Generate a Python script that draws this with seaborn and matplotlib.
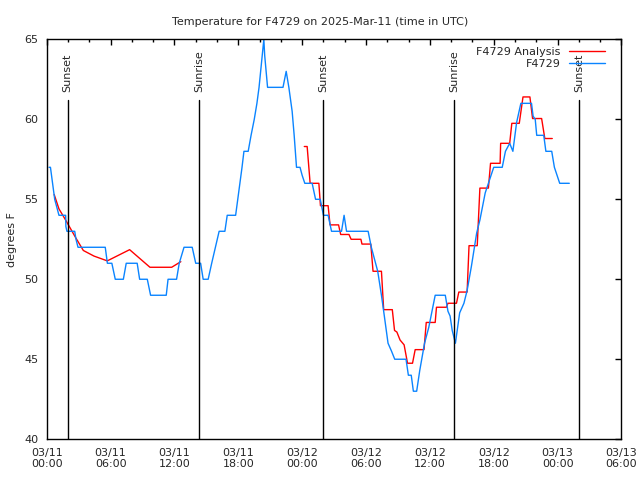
import pandas as pd
import numpy as np
import matplotlib
matplotlib.use("Agg")
import matplotlib.pyplot as plt
import matplotlib.dates as mdates
import seaborn as sns

# --- data (hours after 2025-03-11 00:00 UTC, degrees F) ---
base = pd.Timestamp("2025-03-11 00:00")

obs_hours = [0.22, 0.35, 0.55, 0.75, 0.95, 1.15, 1.78, 1.80, 1.90, 2.63, 2.75, 2.94,
             5.50, 5.70, 6.12, 6.44, 7.20, 7.47, 8.50, 8.73, 9.45, 9.76, 11.23, 11.40,
             12.20, 12.45, 12.90, 13.67, 14.00, 14.46, 14.70, 15.17, 15.50, 15.85, 16.20,
             16.74, 16.96, 17.75, 17.95, 18.15, 18.35, 18.53, 18.93, 19.20, 19.50, 19.75,
             19.95, 20.10, 20.25, 20.40, 20.48, 20.75, 22.20, 22.50, 22.75, 23.06, 23.25,
             23.47, 23.80, 24.00, 24.25, 24.94, 25.26, 25.70, 26.00, 26.44, 26.76, 27.70,
             27.94, 28.17, 30.20, 30.50, 31.10, 31.45, 31.66, 32.07, 32.40, 32.70, 33.76,
             33.98, 34.25, 34.45, 34.76, 35.05, 35.50, 35.90, 36.20, 36.50, 37.45, 37.70,
             37.90, 38.10, 38.40, 38.80, 39.20, 39.50, 39.90, 40.40, 40.70, 41.20, 42.00,
             42.80, 43.10, 43.50, 43.80, 44.15, 44.55, 45.55, 45.70, 45.90, 46.04, 46.70,
             46.90, 47.45, 47.70, 48.20, 49.10]
obs_temp = [57.0, 57.0, 56.0, 55.0, 54.5, 54.0, 54.0, 53.3, 53.0, 53.0, 52.5, 52.0,
            52.0, 51.0, 51.0, 50.0, 50.0, 51.0, 51.0, 50.0, 50.0, 49.0, 49.0, 50.0,
            50.0, 51.0, 52.0, 52.0, 51.0, 51.0, 50.0, 50.0, 51.0, 52.0, 53.0,
            53.0, 54.0, 54.0, 55.0, 56.0, 57.0, 58.0, 58.0, 59.0, 60.0, 61.0,
            62.0, 63.0, 64.0, 65.0, 64.0, 62.0, 62.0, 63.0, 62.0, 60.5, 59.0,
            57.0, 57.0, 56.5, 56.0, 56.0, 55.0, 55.0, 54.0, 54.0, 53.0, 53.0,
            54.0, 53.0, 53.0, 52.0, 50.5, 49.0, 48.0, 46.0, 45.5, 45.0, 45.0,
            44.0, 44.0, 43.0, 43.0, 44.3, 46.0, 47.0, 48.0, 49.0, 49.0, 48.0,
            47.7, 46.8, 46.0, 47.9, 48.5, 49.3, 50.8, 52.9, 53.7, 55.4, 57.0,
            57.0, 58.0, 58.5, 58.0, 59.8, 61.0, 61.0, 60.2, 60.0, 59.0, 59.0,
            58.0, 58.0, 57.0, 56.0, 56.0]

# analysis series comes in two pieces (gap during the day of 03/11)
ana1_hours = [0.70, 1.15, 1.78, 2.72, 3.44, 4.44, 5.69, 7.79, 9.70, 11.74, 12.60]
ana1_temp = [55.3, 54.4, 53.7, 52.6, 51.8, 51.45, 51.15, 51.85, 50.75, 50.75, 51.1]

ana2_hours = [24.20, 24.47, 24.75, 25.57, 25.72, 26.44, 26.62, 27.42, 27.62, 28.40,
              28.60, 29.52, 29.62, 30.45, 30.66, 31.45, 31.66, 32.47, 32.68, 32.90,
              33.20, 33.58, 33.90, 34.37, 34.62, 35.45, 35.66, 36.50, 36.62, 37.55,
              37.70, 38.50, 38.72, 39.50, 39.68, 40.45, 40.70, 41.50, 41.70, 42.60,
              42.65, 43.50, 43.70, 44.40, 44.75, 45.40, 45.65, 46.50, 46.80, 47.50]
ana2_temp = [58.3, 58.3, 56.0, 56.0, 54.6, 54.6, 53.4, 53.4, 52.8, 52.8,
             52.5, 52.5, 52.2, 52.2, 50.5, 50.5, 48.1, 48.1, 46.8, 46.7,
             46.2, 45.9, 44.75, 44.75, 45.6, 45.6, 47.3, 47.3, 48.25, 48.25,
             48.5, 48.5, 49.2, 49.2, 52.1, 52.1, 55.7, 55.7, 57.25, 57.25,
             58.5, 58.5, 59.75, 59.75, 61.4, 61.4, 60.05, 60.05, 58.8, 58.8]

sun_labels = ["Sunset", "Sunrise", "Sunset", "Sunrise", "Sunset"]
sun_hours = [1.97, 14.30, 25.97, 38.27, 50.0]


def to_df(hours, temp):
    return pd.DataFrame({"time": base + pd.to_timedelta(hours, unit="h"), "temp": temp})


obs = to_df(obs_hours, obs_temp)
ana1 = to_df(ana1_hours, ana1_temp)
ana2 = to_df(ana2_hours, ana2_temp)

# --- plot ---
sns.set_style("white")
plt.rcParams["font.family"] = ["DejaVu Sans"]

fig = plt.figure(figsize=(6.4, 4.8), dpi=100)
ax = fig.add_axes([0.073, 0.085, 0.898, 0.833])

red = "#ff0000"
blue = "#0a84ff"
sns.lineplot(data=ana1, x="time", y="temp", color=red, lw=1, sort=False, estimator=None,
             ax=ax, label="F4729 Analysis")
sns.lineplot(data=ana2, x="time", y="temp", color=red, lw=1, sort=False, estimator=None, ax=ax)
sns.lineplot(data=obs, x="time", y="temp", color=blue, lw=1, sort=False, estimator=None,
             ax=ax, label="F4729")

# sunrise / sunset markers
for lab, h in zip(sun_labels, sun_hours):
    t = base + pd.Timedelta(hours=h)
    ax.plot([t, t], [40, 61.2], color="black", lw=1)
    ax.text(t, 61.7, lab, rotation=90, ha="center", va="bottom", fontsize=8)

ax.set_xlim(base, base + pd.Timedelta(hours=54))
ax.set_ylim(40, 65)
ax.set_yticks([40, 45, 50, 55, 60, 65])

ax.xaxis.set_major_locator(mdates.HourLocator(byhour=[0, 6, 12, 18]))
ax.xaxis.set_minor_locator(mdates.HourLocator(byhour=range(0, 24, 2)))
ax.xaxis.set_major_formatter(mdates.DateFormatter("%m/%d\n%H:%M"))

ax.tick_params(which="both", direction="in", top=True, right=True, labelsize=8,
               color="black", width=1)
ax.tick_params(which="major", length=4, pad=6)
ax.tick_params(which="minor", length=2)
for s in ax.spines.values():
    s.set_color("black")
    s.set_linewidth(1)

ax.set_xlabel("")
ax.set_ylabel("")
fig.text(0.018, 0.5, "degrees F", rotation=90, ha="center", va="center", fontsize=8)
fig.text(0.5, 0.955, "Temperature for F4729 on 2025-Mar-11 (time in UTC)",
         ha="center", va="center", fontsize=8)

ax.legend(loc="upper right", frameon=False, markerfirst=False, fontsize=8,
          handlelength=3.2, labelspacing=0.15, borderaxespad=0.3,
          bbox_to_anchor=(0.985, 1.0))

fig.savefig("out.png", dpi=100)
